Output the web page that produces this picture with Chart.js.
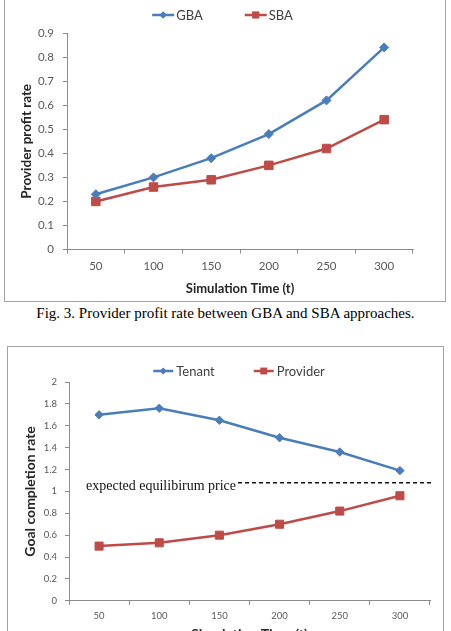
<!DOCTYPE html>
<html>
<head>
<meta charset="utf-8">
<script src="https://cdn.jsdelivr.net/npm/chart.js@4.4.1/dist/chart.umd.min.js"></script>
<style>
  html, body { margin: 0; padding: 0; background: #fff; overflow: hidden; }
  body { width: 451px; height: 631px; position: relative; }
  .frame { position: absolute; border: 1px solid #a3a3a3; box-sizing: border-box; }
  #frame1 { left: 4px; top: -2px; width: 442px; height: 304px; }
  #frame2 { left: 7px; top: 346px; width: 437px; height: 320px; }
  canvas { position: absolute; left: 0; }
  #profitChart { top: 0; }
  #goalChart { top: 346px; }
  .caption {
    position: absolute; left: 0; top: 304px; width: 451px;
    text-align: center; font-family: "Liberation Serif", serif;
    font-size: 15px; line-height: 18px; color: #000;
  }
</style>
</head>
<body>
<div class="frame" id="frame1"></div>
<canvas id="profitChart" width="451" height="300"></canvas>
<div class="caption">Fig. 3. Provider profit rate between GBA and SBA approaches.</div>
<div class="frame" id="frame2"></div>
<canvas id="goalChart" width="451" height="297"></canvas>

<script>
// data
const times = ["50", "100", "150", "200", "250", "300"];

const gbaProfit = [0.23, 0.30, 0.38, 0.48, 0.62, 0.84];
const sbaProfit = [0.20, 0.26, 0.29, 0.35, 0.42, 0.54];

const tenantGoal = [1.70, 1.76, 1.65, 1.49, 1.36, 1.19];
const providerGoal = [0.50, 0.53, 0.60, 0.70, 0.82, 0.96];

const equilibriumPrice = 1.08;

const blue = "#4a7ebb";
const red = "#be4b48";
const axisGray = "#8c8c8c";
const tickGray = "#595959";
const titleColor = "#262626";

// excel style legend: short line with the marker on it
const lineLegend = {
  id: "lineLegend",
  afterDraw(chart, args, opts) {
    const ctx = chart.ctx;
    const sets = chart.data.datasets;
    ctx.save();
    ctx.font = opts.font;
    const widths = sets.map(d => opts.lineLen + opts.gap + ctx.measureText(d.label).width);
    const total = widths.reduce((a, b) => a + b, 0) + opts.spacing * (sets.length - 1);
    let x = opts.centerX - total / 2;
    const y = opts.y;

    sets.forEach((d, i) => {
      ctx.strokeStyle = d.borderColor;
      ctx.lineWidth = d.borderWidth;
      ctx.beginPath();
      ctx.moveTo(x, y);
      ctx.lineTo(x + opts.lineLen, y);
      ctx.stroke();

      const mx = x + opts.lineLen / 2;
      const r = d.pointRadius * opts.markerScale;
      ctx.fillStyle = d.borderColor;
      ctx.beginPath();
      if (d.pointStyle === "rectRot") {
        ctx.moveTo(mx, y - r);
        ctx.lineTo(mx + r, y);
        ctx.lineTo(mx, y + r);
        ctx.lineTo(mx - r, y);
      } else {
        const h = r * Math.SQRT1_2;
        ctx.rect(mx - h, y - h, 2 * h, 2 * h);
      }
      ctx.closePath();
      ctx.fill();

      ctx.fillStyle = opts.color;
      ctx.textBaseline = "middle";
      ctx.fillText(d.label, x + opts.lineLen + opts.gap, y + 1);
      x += widths[i] + opts.spacing;
    });
    ctx.restore();
  }
};

// dashed reference line with its label
const equilibriumLine = {
  id: "equilibriumLine",
  afterDatasetsDraw(chart, args, opts) {
    if (!opts.text) return;
    const {ctx, chartArea, scales} = chart;
    const y = scales.y.getPixelForValue(opts.value);
    ctx.save();
    ctx.font = opts.font;
    ctx.fillStyle = "#111";
    ctx.textBaseline = "middle";
    ctx.fillText(opts.text, opts.textX, y + 4);
    const start = opts.textX + ctx.measureText(opts.text).width + 2;
    ctx.strokeStyle = "#111";
    ctx.lineWidth = 1.5;
    ctx.setLineDash([4, 3]);
    ctx.beginPath();
    ctx.moveTo(start, y);
    ctx.lineTo(chartArea.right + 3, y);
    ctx.stroke();
    ctx.restore();
  }
};

function axes(cfg) {
  return {
    x: {
      offset: true,
      grid: { offset: true, drawOnChartArea: false, tickLength: 4, color: axisGray },
      border: { color: axisGray },
      ticks: { color: tickGray, font: { family: "Lato", size: cfg.tickSize }, padding: cfg.xPad },
      title: {
        display: true,
        text: "Simulation Time (t)",
        color: titleColor,
        font: { family: "Lato", size: cfg.xTitleSize, weight: "bold" },
        padding: { top: cfg.xTitlePad, bottom: 0 }
      }
    },
    y: {
      min: 0,
      max: cfg.max,
      afterFit: scale => { scale.width = cfg.yWidth; },
      grid: { drawOnChartArea: false, tickLength: 4, color: axisGray },
      border: { color: axisGray },
      ticks: {
        stepSize: cfg.step,
        color: tickGray,
        font: { family: "Lato", size: cfg.tickSize },
        padding: cfg.yPad,
        callback: v => String(Number(v.toFixed(2)))
      },
      title: {
        display: true,
        text: cfg.yTitle,
        color: titleColor,
        font: { family: "Lato", size: cfg.yTitleSize, weight: "bold" },
        padding: { top: cfg.yTitlePad, bottom: 0 }
      }
    }
  };
}

const profit = document.getElementById("profitChart");

new Chart(profit, {
  type: "line",
  data: {
    labels: times,
    datasets: [
      {
        label: "GBA",
        data: gbaProfit,
        borderColor: blue,
        backgroundColor: blue,
        borderWidth: 2.5,
        pointStyle: "rectRot",
        pointRadius: 4.5,
        pointBorderWidth: 1,
        tension: 0
      },
      {
        label: "SBA",
        data: sbaProfit,
        borderColor: red,
        backgroundColor: red,
        borderWidth: 2.5,
        pointStyle: "rect",
        pointRadius: 6,
        pointBorderWidth: 1,
        tension: 0
      }
    ]
  },
  options: {
    responsive: false,
    animation: false,
    layout: { padding: { top: 33, left: 0, right: 38, bottom: 3 } },
    plugins: {
      legend: { display: false },
      tooltip: { enabled: false },
      lineLegend: {
        y: 15, centerX: 222.5, lineLen: 22, gap: 2, spacing: 42, markerScale: 0.85,
        font: "13px Lato", color: "#404040"
      },
      equilibriumLine: {}
    },
    scales: axes({
      max: 0.9, step: 0.1, tickSize: 11.5, xPad: 6, yPad: 9, yWidth: 67,
      yTitle: "Provider profit rate", yTitleSize: 13.5, yTitlePad: 19,
      xTitleSize: 13, xTitlePad: 2
    })
  },
  plugins: [lineLegend, equilibriumLine]
});

const goal = document.getElementById("goalChart");

new Chart(goal, {
  type: "line",
  data: {
    labels: times,
    datasets: [
      {
        label: "Tenant",
        data: tenantGoal,
        borderColor: blue,
        backgroundColor: blue,
        borderWidth: 2.5,
        pointStyle: "rectRot",
        pointRadius: 4.2,
        pointBorderWidth: 1,
        tension: 0
      },
      {
        label: "Provider",
        data: providerGoal,
        borderColor: red,
        backgroundColor: red,
        borderWidth: 2.5,
        pointStyle: "rect",
        pointRadius: 5.7,
        pointBorderWidth: 1,
        tension: 0
      }
    ]
  },
  options: {
    responsive: false,
    animation: false,
    layout: { padding: { top: 36, left: 0, right: 21, bottom: 0 } },
    plugins: {
      legend: { display: false },
      tooltip: { enabled: false },
      lineLegend: {
        y: 25, centerX: 239, lineLen: 20, gap: 3, spacing: 39, markerScale: 0.85,
        font: "13px Lato", color: "#404040"
      },
      equilibriumLine: {
        value: equilibriumPrice,
        text: "expected equilibirum price",
        textX: 86,
        font: "14px 'Liberation Serif'"
      }
    },
    scales: axes({
      max: 2, step: 0.2, tickSize: 9.5, xPad: 5, yPad: 8, yWidth: 69,
      yTitle: "Goal completion rate", yTitleSize: 14, yTitlePad: 21.6,
      xTitleSize: 14, xTitlePad: 0
    })
  },
  plugins: [lineLegend, equilibriumLine]
});
</script>
</body>
</html>
